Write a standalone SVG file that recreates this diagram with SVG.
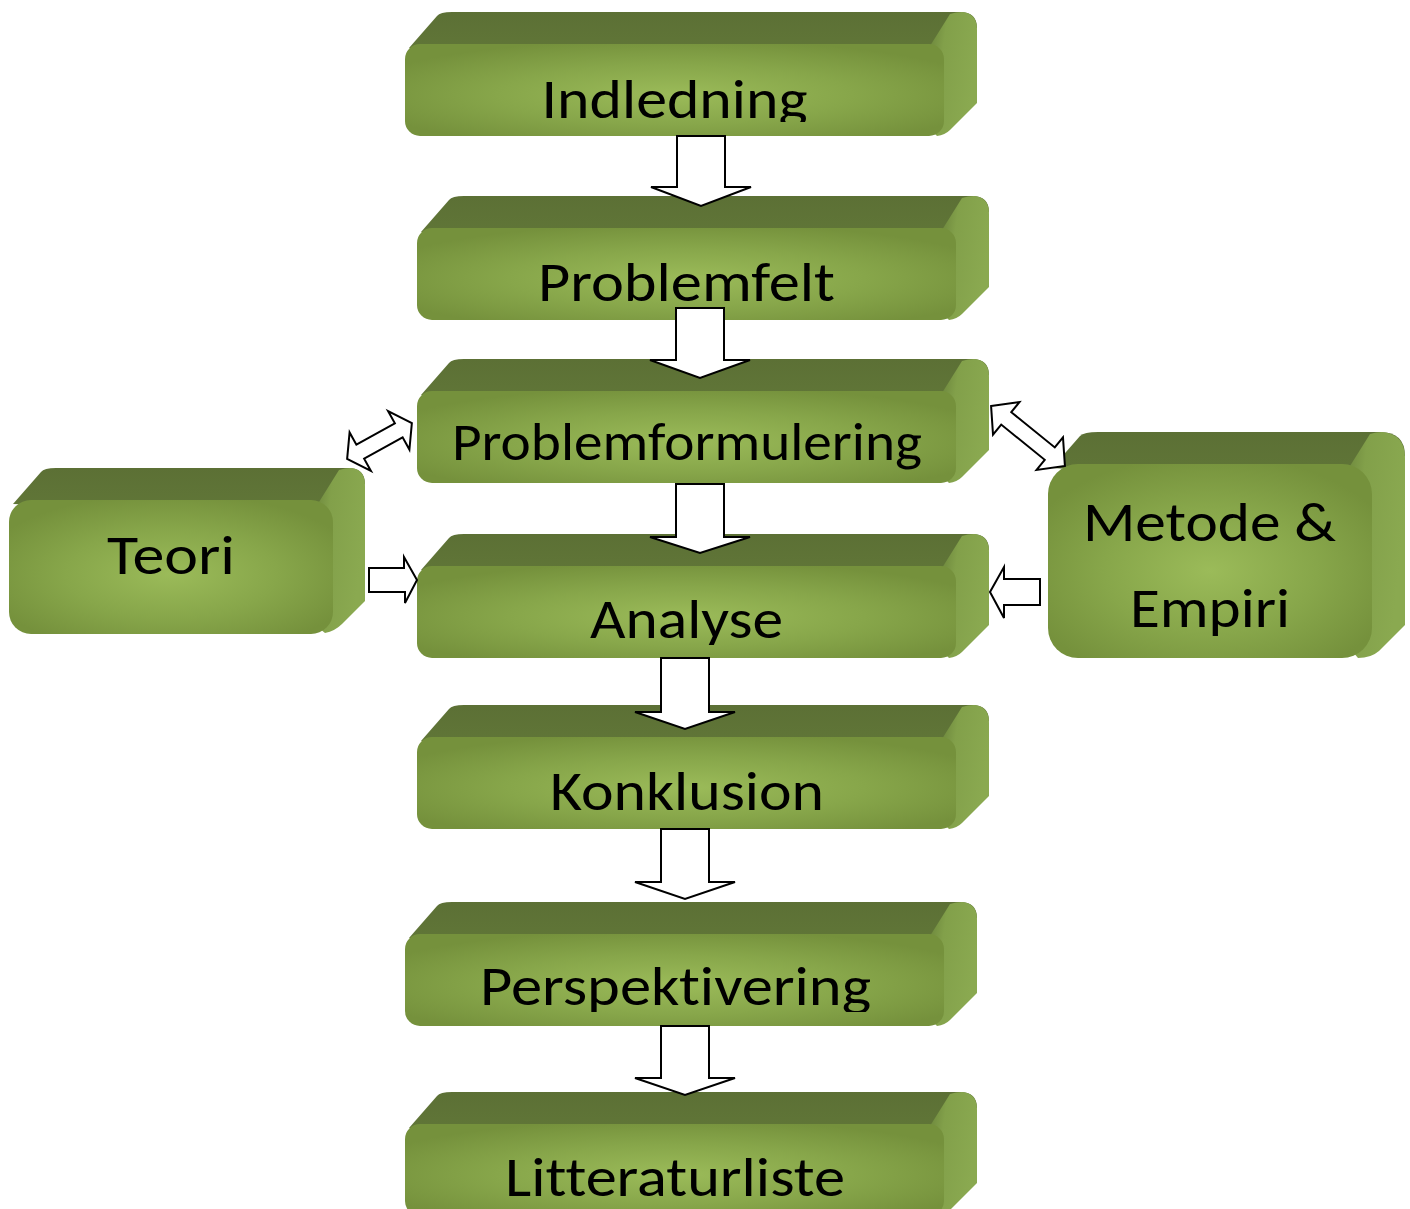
<svg xmlns="http://www.w3.org/2000/svg" xmlns:xlink="http://www.w3.org/1999/xlink" width="1410" height="1209" viewBox="0 0 1410 1209">
<defs>
  <radialGradient id="gFront" cx="50%" cy="55%" r="60%">
    <stop offset="0" stop-color="#9bbb59"/>
    <stop offset="0.55" stop-color="#87a64a"/>
    <stop offset="1" stop-color="#75913c"/>
  </radialGradient>
  <linearGradient id="gTop" x1="0" y1="0" x2="0" y2="1">
    <stop offset="0" stop-color="#5c7035"/>
    <stop offset="1" stop-color="#617738"/>
  </linearGradient>
  <linearGradient id="gRight" x1="0" y1="0" x2="1" y2="0.35">
    <stop offset="0" stop-color="#627a36"/>
    <stop offset="0.4" stop-color="#82a04a"/>
    <stop offset="1" stop-color="#8aa950"/>
  </linearGradient>
  <g id="boxMain">
    <path class="top" d="M4,4 L32,-28 Q35,-32 47,-32 L555,-32 Q572,-32 572,-16 L539,14 Z"/>
    <path class="right" d="M525,2 L545,-30 Q551,-32 557,-32 Q572,-31 572,-14 L572,59 L545,86 Q540,91 532,92 L520,80 Z"/>
    <rect class="front" x="0" y="0" width="539" height="92" rx="15"/>
  </g>
  <clipPath id="c1"><rect x="405" y="44" width="539" height="78"/></clipPath>
  <clipPath id="c2"><rect x="417" y="228" width="539" height="79"/></clipPath>
  <clipPath id="c3"><rect x="417" y="391" width="539" height="80"/></clipPath>
  <clipPath id="c4"><rect x="417" y="566" width="539" height="79"/></clipPath>
  <clipPath id="c5"><rect x="417" y="737" width="539" height="79"/></clipPath>
  <clipPath id="c6"><rect x="405" y="934" width="539" height="78"/></clipPath>
  <clipPath id="c7"><rect x="405" y="1124" width="539" height="85"/></clipPath>
</defs>
<style>
  .top{fill:url(#gTop)}
  .right{fill:url(#gRight)}
  .front{fill:url(#gFront)}
  .lbl{font-family:Carlito,Lato,"Liberation Sans",sans-serif;font-size:56px;fill:#000;text-anchor:middle;font-variant-ligatures:none;font-feature-settings:"liga" 0,"clig" 0}
  .arr{fill:#fff;stroke:#000;stroke-width:2;stroke-linejoin:miter}
</style>

<g id="node-indledning">
  <use xlink:href="#boxMain" href="#boxMain" x="405" y="44"/>
  <text class="lbl" x="674.5" y="118" textLength="266" lengthAdjust="spacingAndGlyphs" clip-path="url(#c1)">Indledning</text>
</g>

<g id="node-problemfelt">
  <use xlink:href="#boxMain" href="#boxMain" x="417" y="228"/>
  <text class="lbl" x="686.5" y="301" textLength="297" lengthAdjust="spacingAndGlyphs" clip-path="url(#c2)">Problemfelt</text>
</g>

<g id="node-problemformulering">
  <use xlink:href="#boxMain" href="#boxMain" x="417" y="391"/>
  <text class="lbl" x="687" y="460" style="font-size:53px" textLength="470" lengthAdjust="spacingAndGlyphs" clip-path="url(#c3)">Problemformulering</text>
</g>

<g id="node-analyse">
  <use xlink:href="#boxMain" href="#boxMain" x="417" y="566"/>
  <text class="lbl" x="686.5" y="638" textLength="193" lengthAdjust="spacingAndGlyphs" clip-path="url(#c4)">Analyse</text>
</g>

<g id="node-konklusion">
  <use xlink:href="#boxMain" href="#boxMain" x="417" y="737"/>
  <text class="lbl" x="687" y="810" textLength="274" lengthAdjust="spacingAndGlyphs" clip-path="url(#c5)">Konklusion</text>
</g>

<g id="node-perspektivering">
  <use xlink:href="#boxMain" href="#boxMain" x="405" y="934"/>
  <text class="lbl" x="675.5" y="1005" textLength="391" lengthAdjust="spacingAndGlyphs" clip-path="url(#c6)">Perspektivering</text>
</g>

<g id="node-litteraturliste">
  <use xlink:href="#boxMain" href="#boxMain" x="405" y="1124"/>
  <text class="lbl" x="675" y="1196" textLength="340" lengthAdjust="spacingAndGlyphs" clip-path="url(#c7)">Litteraturliste</text>
</g>

<g id="node-teori">
  <g transform="translate(9,500)">
    <path class="top" d="M4,4 L32,-28 Q35,-32 47,-32 L339,-32 Q356,-32 356,-16 L324,14 Z"/>
    <path class="right" d="M310,2 L330,-30 Q336,-32 342,-32 Q356,-31 356,-14 L356,101 L333,124 Q326,131 316,133 L300,120 Z"/>
    <rect class="front" x="0" y="0" width="324" height="134" rx="22"/>
  </g>
  <text class="lbl" x="171" y="574" textLength="128" lengthAdjust="spacingAndGlyphs">Teori</text>
</g>

<g id="node-metode">
  <g transform="translate(1048,464)">
    <path class="top" d="M4,4 L32,-28 Q36,-32 50,-32 L332,-32 Q357,-32 357,-8 L324,24 Z"/>
    <path class="right" d="M302,2 L322,-30 Q328,-32 334,-32 Q357,-30 357,-6 L357,161 L331,187 Q323,194 310,194 L290,170 Z"/>
    <rect class="front" x="0" y="0" width="324" height="194" rx="30"/>
  </g>
  <text class="lbl" x="1209.5" y="541" textLength="253" lengthAdjust="spacingAndGlyphs">Metode &amp;</text>
  <text class="lbl" x="1210" y="627" textLength="160" lengthAdjust="spacingAndGlyphs">Empiri</text>
</g>

<g id="connectors">
  <polygon class="arr" points="677,136 725,136 725,187 751,187 701,206 651,187 677,187"/>
  <polygon class="arr" points="676,308 724,308 724,360 750,360 700,378 650,360 676,360"/>
  <polygon class="arr" points="676,484 724,484 724,537 750,537 700,553 650,537 676,537"/>
  <polygon class="arr" points="661,658 709,658 709,712 735,712 685,729 635,712 661,712"/>
  <polygon class="arr" points="661,829 709,829 709,882 735,882 685,899 635,882 661,882"/>
  <polygon class="arr" points="661,1026 709,1026 709,1078 735,1078 685,1095 635,1078 661,1078"/>
  <polygon class="arr" transform="translate(379.5,441) rotate(-29)" points="-37,0 -22,-22 -22,-8 22,-8 22,-22 37,0 22,22 22,8 -22,8 -22,22"/>
  <polygon class="arr" transform="translate(1028,436) rotate(39)" points="-47.5,0 -28,-21 -28,-8 28,-8 28,-21 47.5,0 28,21 28,8 -28,8 -28,21"/>
  <polygon class="arr" points="369,568 404,568 404,557 417,580 405,603 405,592 369,592"/>
  <polygon class="arr" points="990,592 1004,567 1004,579 1040,579 1040,605 1004,605 1004,618"/>
</g>
</svg>
